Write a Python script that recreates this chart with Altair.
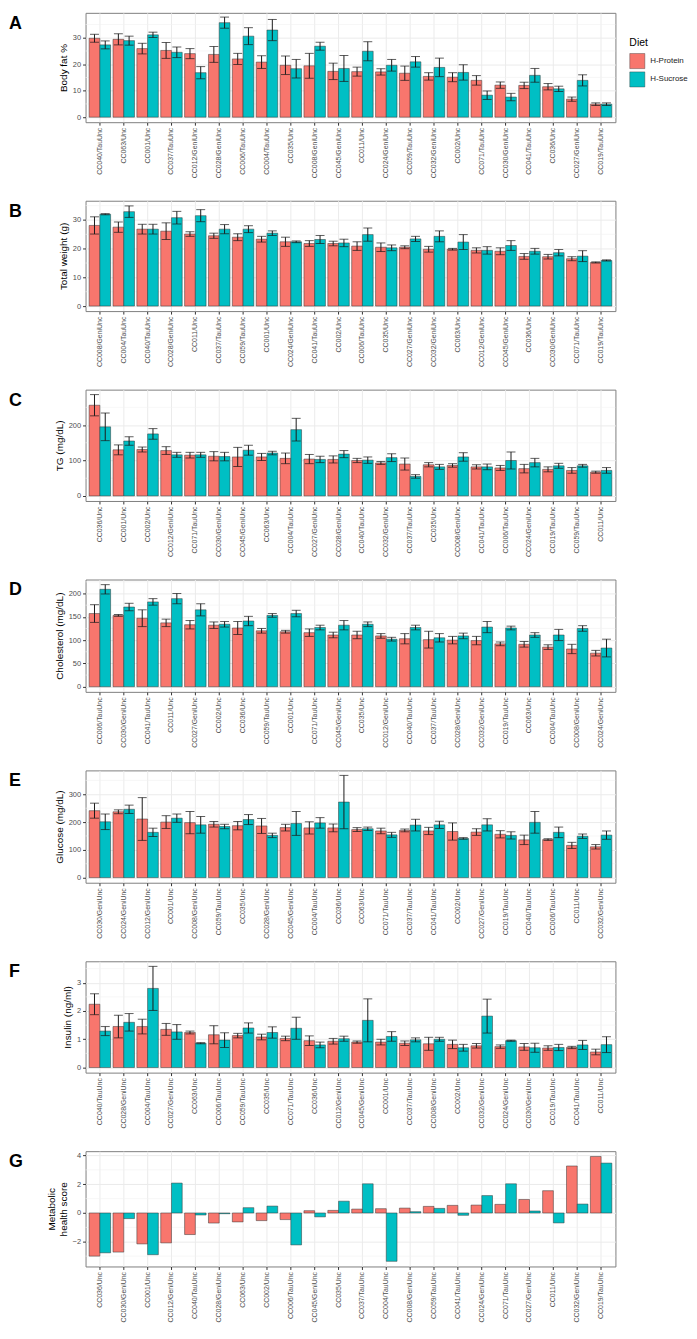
import altair as alt
import pandas as pd

DIETS = ["H-Protein", "H-Sucrose"]
COLORS = ["#F8766D", "#00BFC4"]
FONT = "Liberation Sans"

# ---------------- Panel A: Body fat % ----------------
A_strains = ["CC040/TauUnc", "CC063/Unc", "CC001/Unc", "CC037/TauUnc", "CC012/GeniUnc", "CC028/GeniUnc",
             "CC006/TauUnc", "CC004/TauUnc", "CC035/Unc", "CC008/GeniUnc", "CC045/GeniUnc", "CC011/Unc",
             "CC024/GeniUnc", "CC059/TauUnc", "CC032/GeniUnc", "CC002/Unc", "CC071/TauUnc", "CC030/GeniUnc",
             "CC041/TauUnc", "CC036/Unc", "CC027/GeniUnc", "CC019/TauUnc"]
A_prot = [29.8, 29.4, 25.9, 25.2, 24.0, 23.7, 22.0, 20.8, 19.6, 19.4, 17.3, 17.2, 17.1, 16.6, 15.4, 15.1, 13.9, 12.1, 12.0, 11.5, 6.8, 4.9]
A_prot_err = [1.5, 2.1, 2.0, 3.0, 1.9, 3.0, 2.1, 2.4, 3.5, 4.7, 3.1, 1.7, 1.2, 2.7, 1.4, 1.7, 1.8, 1.2, 1.2, 1.2, 0.8, 0.5]
A_sucr = [27.3, 28.9, 31.1, 24.5, 16.8, 35.7, 30.6, 32.9, 18.3, 26.8, 18.4, 24.9, 19.6, 20.9, 18.8, 16.9, 8.3, 7.6, 15.8, 10.7, 13.9, 4.9]
A_sucr_err = [1.5, 1.7, 1.0, 2.0, 2.3, 2.1, 3.2, 4.0, 3.5, 1.5, 4.9, 3.6, 2.2, 2.0, 3.5, 2.9, 1.6, 1.4, 2.6, 1.0, 2.1, 0.5]

# ---------------- Panel B: Total weight ----------------
B_strains = ["CC008/GeniUnc", "CC004/TauUnc", "CC040/TauUnc", "CC028/GeniUnc", "CC011/Unc", "CC037/TauUnc",
             "CC059/TauUnc", "CC001/Unc", "CC024/GeniUnc", "CC041/TauUnc", "CC002/Unc", "CC006/TauUnc",
             "CC035/Unc", "CC027/GeniUnc", "CC032/GeniUnc", "CC063/Unc", "CC012/GeniUnc", "CC045/GeniUnc",
             "CC036/Unc", "CC030/GeniUnc", "CC071/TauUnc", "CC019/TauUnc"]
B_prot = [28.1, 27.5, 26.8, 26.1, 25.1, 24.5, 24.0, 23.3, 22.4, 21.8, 21.8, 20.9, 20.5, 20.5, 19.8, 19.8, 19.4, 19.1, 17.3, 17.2, 16.5, 15.2]
B_prot_err = [3.0, 1.8, 1.7, 2.9, 0.8, 0.9, 1.2, 1.0, 1.6, 1.0, 0.8, 1.5, 1.5, 0.5, 1.0, 0.3, 0.9, 1.2, 1.0, 0.8, 0.7, 0.2]
B_sucr = [32.0, 32.9, 26.8, 30.8, 31.5, 26.8, 26.8, 25.4, 22.4, 23.2, 22.0, 24.9, 20.3, 23.4, 24.3, 22.3, 19.4, 21.1, 19.1, 18.6, 17.4, 15.9]
B_sucr_err = [0.2, 2.0, 1.7, 2.2, 2.1, 1.6, 1.2, 0.8, 0.3, 1.4, 1.3, 2.3, 1.0, 0.9, 1.9, 2.6, 1.3, 1.7, 1.0, 1.1, 1.9, 0.2]

# ---------------- Panel C: TG ----------------
C_strains = ["CC036/Unc", "CC001/Unc", "CC002/Unc", "CC012/GeniUnc", "CC071/TauUnc", "CC030/GeniUnc",
             "CC045/GeniUnc", "CC063/Unc", "CC004/TauUnc", "CC027/GeniUnc", "CC028/GeniUnc", "CC040/TauUnc",
             "CC032/GeniUnc", "CC037/TauUnc", "CC035/Unc", "CC008/GeniUnc", "CC041/TauUnc", "CC006/TauUnc",
             "CC024/GeniUnc", "CC019/TauUnc", "CC059/TauUnc", "CC011/Unc"]
C_prot = [256, 130, 131, 128, 115, 112, 110, 110, 106, 104, 103, 100, 93, 90, 88, 86, 82, 79, 77, 75, 72, 67]
C_prot_err = [30, 14, 7, 11, 8, 13, 27, 10, 15, 13, 10, 6, 4, 17, 6, 5, 6, 7, 12, 7, 8, 3]
C_sucr = [195, 155, 175, 116, 116, 111, 129, 121, 187, 103, 118, 101, 108, 55, 82, 110, 82, 100, 94, 85, 85, 72]
C_sucr_err = [39, 12, 15, 7, 7, 12, 14, 5, 32, 9, 10, 9, 11, 5, 7, 12, 8, 24, 12, 7, 4, 8]

# ---------------- Panel D: Cholesterol ----------------
D_strains = ["CC006/TauUnc", "CC030/GeniUnc", "CC041/TauUnc", "CC011/Unc", "CC027/GeniUnc", "CC002/Unc",
             "CC036/Unc", "CC059/TauUnc", "CC001/Unc", "CC071/TauUnc", "CC045/GeniUnc", "CC035/Unc",
             "CC012/GeniUnc", "CC040/TauUnc", "CC037/TauUnc", "CC028/GeniUnc", "CC032/GeniUnc", "CC019/TauUnc",
             "CC063/Unc", "CC004/TauUnc", "CC008/GeniUnc", "CC024/GeniUnc"]
D_prot = [157, 153, 147, 137, 133, 132, 126, 120, 118, 116, 111, 111, 109, 103, 101, 100, 99, 92, 91, 85, 81, 72]
D_prot_err = [19, 2, 18, 8, 9, 7, 14, 5, 3, 8, 6, 8, 5, 11, 18, 8, 9, 4, 6, 5, 10, 6]
D_sucr = [209, 171, 182, 189, 165, 134, 141, 153, 157, 127, 132, 134, 102, 127, 105, 109, 128, 126, 111, 111, 125, 83]
D_sucr_err = [10, 8, 7, 11, 13, 6, 10, 4, 7, 5, 10, 5, 4, 5, 9, 6, 12, 4, 5, 12, 6, 19]

# ---------------- Panel E: Glucose ----------------
E_strains = ["CC030/GeniUnc", "CC024/GeniUnc", "CC012/GeniUnc", "CC001/Unc", "CC008/GeniUnc", "CC059/TauUnc",
             "CC035/Unc", "CC028/GeniUnc", "CC045/GeniUnc", "CC004/TauUnc", "CC036/Unc", "CC063/Unc",
             "CC071/TauUnc", "CC037/TauUnc", "CC041/TauUnc", "CC002/Unc", "CC027/GeniUnc", "CC019/TauUnc",
             "CC040/TauUnc", "CC006/TauUnc", "CC011/Unc", "CC032/GeniUnc"]
E_prot = [241, 237, 211, 200, 198, 192, 187, 186, 180, 179, 179, 173, 168, 170, 168, 166, 164, 156, 136, 137, 116, 111]
E_prot_err = [27, 7, 77, 23, 40, 10, 15, 27, 12, 22, 14, 7, 10, 5, 13, 31, 12, 13, 17, 3, 11, 8]
E_sucr = [201, 246, 163, 214, 190, 184, 209, 152, 195, 197, 272, 176, 154, 189, 190, 141, 190, 152, 199, 163, 149, 153]
E_sucr_err = [28, 15, 15, 15, 30, 8, 18, 8, 43, 19, 96, 6, 9, 21, 13, 3, 22, 13, 39, 19, 8, 15]

# ---------------- Panel F: Insulin ----------------
F_strains = ["CC040/TauUnc", "CC028/GeniUnc", "CC004/TauUnc", "CC027/GeniUnc", "CC063/Unc", "CC006/TauUnc",
             "CC059/TauUnc", "CC035/Unc", "CC071/TauUnc", "CC036/Unc", "CC012/GeniUnc", "CC045/GeniUnc",
             "CC001/Unc", "CC037/TauUnc", "CC008/GeniUnc", "CC002/Unc", "CC032/GeniUnc", "CC024/GeniUnc",
             "CC030/GeniUnc", "CC019/TauUnc", "CC041/TauUnc", "CC011/Unc"]
F_prot = [2.24, 1.45, 1.45, 1.35, 1.24, 1.16, 1.13, 1.08, 1.03, 0.95, 0.93, 0.90, 0.90, 0.86, 0.84, 0.82, 0.77, 0.74, 0.73, 0.69, 0.71, 0.55]
F_prot_err = [0.37, 0.40, 0.26, 0.21, 0.05, 0.32, 0.08, 0.10, 0.08, 0.17, 0.10, 0.04, 0.10, 0.08, 0.23, 0.15, 0.08, 0.06, 0.12, 0.08, 0.04, 0.10]
F_sucr = [1.29, 1.60, 2.80, 1.26, 0.86, 0.97, 1.40, 1.24, 1.39, 0.80, 1.02, 1.67, 1.10, 0.98, 1.00, 0.70, 1.82, 0.95, 0.70, 0.71, 0.80, 0.81]
F_sucr_err = [0.16, 0.31, 0.78, 0.26, 0.02, 0.26, 0.18, 0.20, 0.39, 0.10, 0.09, 0.76, 0.17, 0.07, 0.07, 0.12, 0.60, 0.02, 0.16, 0.11, 0.16, 0.28]

# ---------------- Panel G: Metabolic health score ----------------
G_strains = ["CC036/Unc", "CC030/GeniUnc", "CC001/Unc", "CC012/GeniUnc", "CC040/TauUnc", "CC028/GeniUnc",
             "CC063/Unc", "CC002/Unc", "CC006/TauUnc", "CC045/GeniUnc", "CC035/Unc", "CC037/TauUnc",
             "CC004/TauUnc", "CC008/GeniUnc", "CC059/TauUnc", "CC041/TauUnc", "CC024/GeniUnc", "CC071/TauUnc",
             "CC027/GeniUnc", "CC011/Unc", "CC032/GeniUnc", "CC019/TauUnc"]
G_prot = [-3.00, -2.72, -2.15, -2.08, -1.50, -0.70, -0.62, -0.53, -0.46, 0.16, 0.18, 0.27, 0.30, 0.34, 0.46, 0.53, 0.55, 0.60, 0.94, 1.55, 3.27, 3.93]
G_sucr = [-2.77, -0.39, -2.90, 2.08, -0.14, -0.05, 0.37, 0.48, -2.22, -0.27, 0.82, 2.03, -3.36, 0.09, 0.32, -0.16, 1.21, 2.03, 0.14, -0.69, 0.62, 3.47]


def make_df(strains, prot, sucr, prot_err=None, sucr_err=None):
    rows = []
    for i, s in enumerate(strains):
        pe = prot_err[i] if prot_err else 0
        se = sucr_err[i] if sucr_err else 0
        rows.append({"strain": s, "diet": "H-Protein", "value": prot[i], "lo": prot[i] - pe, "hi": prot[i] + pe})
        rows.append({"strain": s, "diet": "H-Sucrose", "value": sucr[i], "lo": sucr[i] - se, "hi": sucr[i] + se})
    return pd.DataFrame(rows)


PLOT_W = 533


def panel(letter, strains, prot, sucr, prot_err, sucr_err, title, domain, ticks, minor, height, legend=False):
    df = make_df(strains, prot, sucr, prot_err, sucr_err)
    xenc = alt.X("strain:N", sort=strains,
                 scale=alt.Scale(paddingInner=0.1, paddingOuter=0.15),
                 axis=alt.Axis(title=None, labelAngle=-90, bandPosition=0.5, grid=True,
                               labelFontSize=7, labelPadding=2, tickSize=3))
    xo = alt.XOffset("diet:N", sort=DIETS, scale=alt.Scale(domain=DIETS))
    yscale = alt.Scale(domain=domain, nice=False, zero=False)
    yaxis = alt.Axis(title=title, values=ticks, grid=True, labelFontSize=7.5, tickSize=3,
                     labelPadding=2, titlePadding=4, titleFontSize=10)
    if legend:
        leg = alt.Legend(title="Diet", orient="none", legendX=PLOT_W + 14, legendY=25,
                         symbolType="square", symbolSize=230, symbolStrokeColor="#333333",
                         symbolStrokeWidth=0.4, labelFontSize=8, titleFontSize=10.5,
                         titleFontWeight="normal", labelFont=FONT, titleFont=FONT,
                         rowPadding=0.5, titlePadding=5, labelOffset=5, labelColor="#222222")
    else:
        leg = None
    color = alt.Color("diet:N", scale=alt.Scale(domain=DIETS, range=COLORS), legend=leg)

    minor_layer = alt.Chart(pd.DataFrame({"m": minor})).mark_rule(
        color="#F2F2F2", strokeWidth=0.6).encode(y=alt.Y("m:Q", scale=yscale, axis=yaxis))

    base = alt.Chart(df)
    bars = base.mark_bar(stroke="#333333", strokeWidth=0.5).encode(
        x=xenc, xOffset=xo,
        y=alt.Y("value:Q", scale=yscale, axis=yaxis),
        y2=alt.datum(0),
        color=color,
    )
    layers = [minor_layer, bars]
    if prot_err is not None:
        rule = base.mark_rule(color="#1a1a1a", strokeWidth=1).encode(
            x=xenc, xOffset=xo,
            y=alt.Y("lo:Q", scale=yscale, axis=yaxis), y2="hi:Q")
        cap_lo = base.mark_tick(color="#1a1a1a", size=9, thickness=1).encode(
            x=xenc, xOffset=xo, y=alt.Y("lo:Q", scale=yscale, axis=yaxis))
        cap_hi = base.mark_tick(color="#1a1a1a", size=9, thickness=1).encode(
            x=xenc, xOffset=xo, y=alt.Y("hi:Q", scale=yscale, axis=yaxis))
        layers += [rule, cap_lo, cap_hi]

    lab = alt.Chart(pd.DataFrame({"t": [letter]})).mark_text(
        font=FONT, fontSize=18, fontWeight="bold", align="left", baseline="top", color="black"
    ).encode(text="t:N", x=alt.value(-77), y=alt.value(2))
    layers.append(lab)

    return alt.layer(*layers).properties(width=PLOT_W, height=height)


pA = panel("A", A_strains, A_prot, A_sucr, A_prot_err, A_sucr_err, "Body fat %",
           [-1.9, 39.4], [0, 10, 20, 30], [5, 15, 25, 35], 110, legend=True)
pB = panel("B", B_strains, B_prot, B_sucr, B_prot_err, B_sucr_err, "Total weight (g)",
           [-1.75, 36.7], [0, 10, 20, 30], [5, 15, 25, 35], 111)
pC = panel("C", C_strains, C_prot, C_sucr, C_prot_err, C_sucr_err, "TG (mg/dL)",
           [-14.3, 300], [0, 100, 200], [50, 150, 250], 112)
pD = panel("D", D_strains, D_prot, D_sucr, D_prot_err, D_sucr_err, "Cholesterol (mg/dL)",
           [-11, 230], [0, 50, 100, 150, 200], [25, 75, 125, 175, 225], 113)
pE = panel("E", E_strains, E_prot, E_sucr, E_prot_err, E_sucr_err, "Glucose (mg/dL)",
           [-18.4, 386], [0, 100, 200, 300], [50, 150, 250, 350], 113)
pF = panel("F", F_strains, F_prot, F_sucr, F_prot_err, F_sucr_err, "Insulin (ng/ml)",
           [-0.18, 3.76], [0, 1, 2, 3], [0.5, 1.5, 2.5, 3.5], 112)
pG = panel("G", G_strains, G_prot, G_sucr, None, None, ["Metabolic", "health score"],
           [-3.72, 4.30], [-2, 0, 2, 4], [-3, -1, 1, 3], 116)

chart = alt.vconcat(pA, pB, pC, pD, pE, pF, pG, spacing=21).resolve_scale(
    color="independent"
).properties(
    padding={"left": 0, "top": 0, "right": 0, "bottom": 0}
).configure_view(
    stroke="#7F7F7F", strokeWidth=1
).configure_axis(
    domain=False, gridColor="#EBEBEB", gridWidth=1, tickColor="#333333",
    labelColor="#4D4D4D", labelFont=FONT, titleFont=FONT, titleColor="black",
    titleFontWeight="normal"
)

chart.save("out.html", embed_options={"renderer": "svg", "actions": False})
